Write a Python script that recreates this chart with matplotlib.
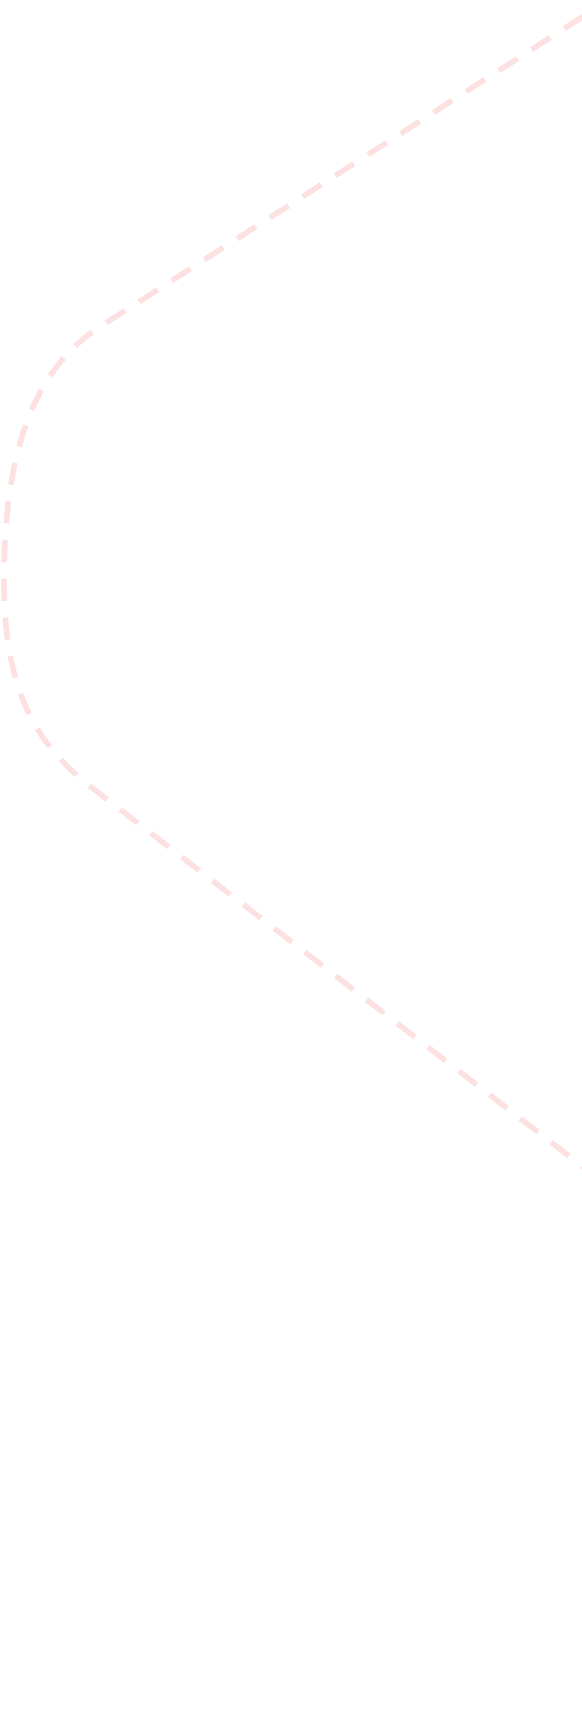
import matplotlib.pyplot as plt
from matplotlib.path import Path
from matplotlib.patches import PathPatch

# Path waypoints (pixel coordinates of the reference, y downwards)
path_x = [590, 95, 30, 4, 4, 4, 35, 95, 600]
path_y = [12, 330, 375, 460, 580, 690, 745, 790, 1180]
path_codes = [Path.MOVETO, Path.LINETO, Path.CURVE4, Path.CURVE4, Path.CURVE4,
              Path.CURVE4, Path.CURVE4, Path.CURVE4, Path.LINETO]

fig = plt.figure(figsize=(5.82, 17.17), dpi=100)
ax = fig.add_axes([0, 0, 1, 1])
ax.set_xlim(0, 582)
ax.set_ylim(1717, 0)
ax.axis("off")

path = Path(list(zip(path_x, path_y)), path_codes)
patch = PathPatch(path, facecolor="none", edgecolor="#fde0e0", linewidth=4,
                  linestyle=(0, (4, 3)))
ax.add_patch(patch)

fig.savefig("out.png", dpi=100, facecolor="white")
